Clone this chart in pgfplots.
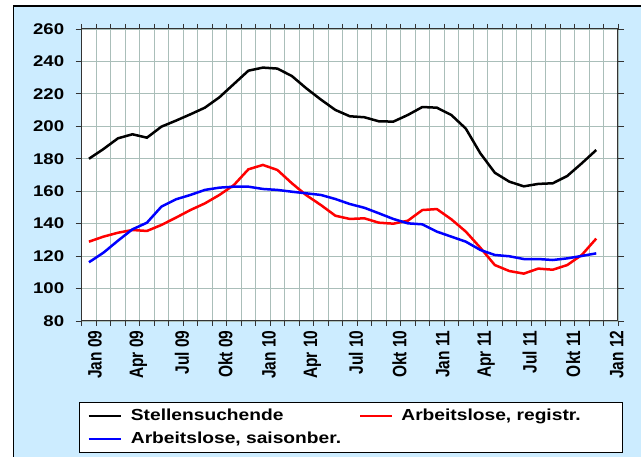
\documentclass[border=0pt]{standalone}
\usepackage{pgfplots}
\pgfplotsset{compat=1.18}
\usepackage{fontspec}
\setmainfont{Liberation Sans}
\usepackage{graphicx}
\definecolor{bgblue}{RGB}{204,236,255}
\definecolor{gridcol}{RGB}{170,190,185}
\newcommand\sx[1]{\scalebox{1.2}[1]{#1}}
\newcommand\sy[1]{\scalebox{1}[1.25]{#1}}
\pgfplotstableread{
i stellen registr saison
0 180.0 128.9 116.2
1 186.0 132.0 122.1
2 192.6 134.4 129.5
3 195.1 136.1 136.5
4 193.0 135.5 140.6
5 199.8 139.2 150.5
6 203.5 143.7 155.0
7 207.4 148.4 157.7
8 211.5 152.5 160.8
9 217.9 157.7 162.2
10 226.1 163.8 162.8
11 234.3 173.5 162.8
12 236.2 176.2 161.4
13 235.6 173.1 160.8
14 231.0 164.9 159.7
15 223.4 157.5 158.7
16 216.5 151.5 157.7
17 210.1 144.9 155.2
18 206.2 142.9 152.1
19 205.6 143.3 149.8
20 203.1 140.6 146.4
21 202.9 140.0 142.9
22 207.0 141.8 140.2
23 211.9 148.4 139.6
24 211.5 149.0 135.1
25 207.0 142.7 132.0
26 198.6 135.1 128.9
27 183.4 125.2 123.8
28 171.4 114.5 120.7
29 165.9 110.8 119.9
30 163.0 109.2 118.2
31 164.5 112.3 118.2
32 164.9 111.6 117.6
33 169.4 114.5 118.6
34 177.2 120.7 120.1
35 185.4 130.8 121.7
}\datatable
\begin{document}
\begin{tikzpicture}[x=1pt,y=1pt]
\useasboundingbox (0,0) rectangle (641,457);
\fill[white] (0,0) rectangle (641,457);
\fill[bgblue] (13.5,0) rectangle (641,451);
\draw[line width=1.3pt] (13.5,0) -- (13.5,451) -- (641,451);
\begin{axis}[
  at={(81.7pt,136pt)}, anchor=south west,
  width=536.3pt, height=292pt, scale only axis,
  axis background/.style={fill=white},
  axis line style={draw=black!80, line width=1pt},
  xmin=-0.5, xmax=36.5, ymin=80, ymax=260,
  ytick={80,100,...,260},
  yticklabels={\sx{80},\sx{100},\sx{120},\sx{140},\sx{160},\sx{180},\sx{200},\sx{220},\sx{240},\sx{260}},
  xtick={0,3,...,36},
  xticklabels={\sy{Jan 09},\sy{Apr 09},\sy{Jul 09},\sy{Okt 09},\sy{Jan 10},\sy{Apr 10},\sy{Jul 10},\sy{Okt 10},\sy{Jan 11},\sy{Apr 11},\sy{Jul 11},\sy{Okt 11},\sy{Jan 12}},
  minor xtick={-0.5,0.5,...,36.5},
  tick align=outside,
  major tick length=6pt, minor tick length=5pt,
  major x tick style={draw=none},
  tick style={draw=black!80, line width=0.8pt},
  xminorgrids=true, ymajorgrids=true, xmajorgrids=false,
  minor grid style={gridcol, line width=0.9pt},
  major grid style={gridcol, line width=0.9pt},
  ticklabel style={font=\fontsize{15.5}{16}\selectfont\bfseries},
  yticklabel style={xshift=-8pt},
  xticklabel style={rotate=90, anchor=east, yshift=-6pt},
  legend columns=2,
  legend style={at={(axis description cs:0,0)}, anchor=north west, xshift=-2.7pt, yshift=-81pt,
    draw=black, line width=0.8pt, fill=white, inner xsep=8pt, inner ysep=2pt,
    font=\fontsize{16}{18}\selectfont\bfseries,
    nodes={inner sep=0pt, minimum height=23pt}, column sep=0pt, row sep=0pt},
  legend cell align=left,
  legend image code/.code={\draw[#1, line width=2.5pt] (0pt,0pt) -- (32pt,0pt);},
]
\addplot[black, line width=2.5pt] table[x=i, y=stellen] {\datatable};
\addlegendentry{\makebox[237pt][l]{\hspace{9pt}\sx{Stellensuchende}}}
\addplot[red, line width=2.5pt] table[x=i, y=registr] {\datatable};
\addlegendentry{\makebox[221pt][l]{\hspace{8pt}\sx{Arbeitslose, registr.}}}
\addplot[blue, line width=2.5pt] table[x=i, y=saison] {\datatable};
\addlegendentry{\makebox[237pt][l]{\hspace{9pt}\sx{Arbeitslose, saisonber.}}}
\end{axis}
\end{tikzpicture}
\end{document}
